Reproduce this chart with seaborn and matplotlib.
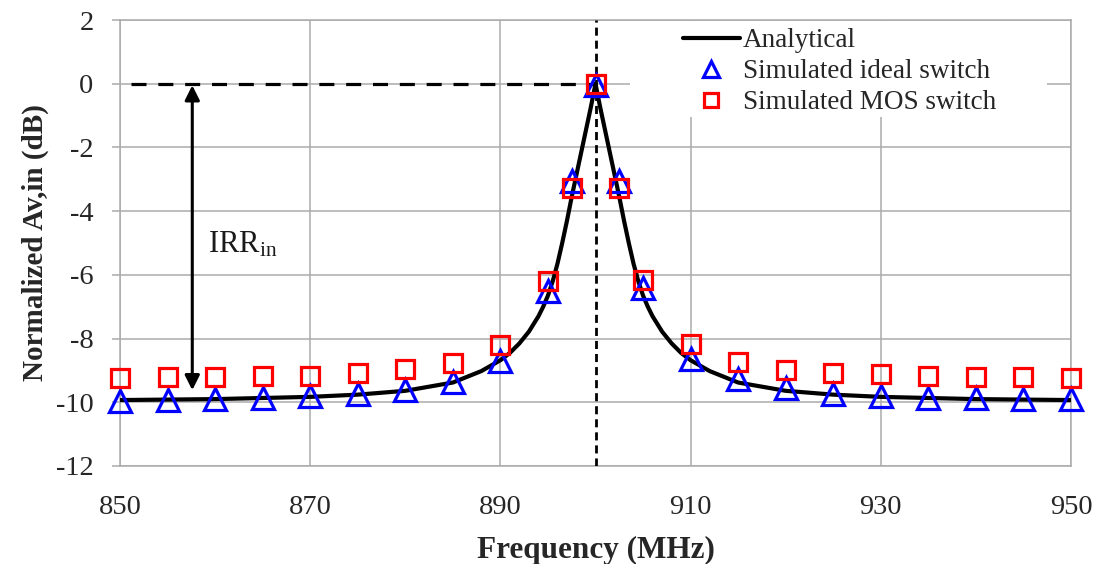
import matplotlib
matplotlib.use("Agg")
import matplotlib.pyplot as plt
import seaborn as sns
import pandas as pd
from matplotlib.patches import Rectangle
from matplotlib.lines import Line2D

# ---------------- data ----------------
freq = [850, 855, 860, 865, 870, 875, 880, 885, 890, 895, 897.5, 900,
        902.5, 905, 910, 915, 920, 925, 930, 935, 940, 945, 950]
ideal_db = [-9.95, -9.93, -9.90, -9.86, -9.81, -9.74, -9.62, -9.36, -8.70, -6.52, -3.05, -0.05,
            -3.05, -6.40, -8.64, -9.27, -9.54, -9.73, -9.80, -9.86, -9.88, -9.90, -9.91]
mos_db = [-9.25, -9.21, -9.22, -9.18, -9.17, -9.09, -8.97, -8.78, -8.20, -6.18, -3.27, 0.0,
          -3.27, -6.15, -8.16, -8.72, -8.98, -9.09, -9.12, -9.18, -9.22, -9.22, -9.25]

curve_freq = [850, 860, 870, 875, 880, 885, 888, 890, 891, 892, 893, 894, 894.5, 895, 895.5,
              896, 896.5, 897, 897.5, 898, 898.5, 899, 899.5, 900,
              900.5, 901, 901.5, 902, 902.5, 903, 903.5, 904, 904.5, 905, 905.5, 906, 907,
              908, 909, 910, 912, 915, 920, 925, 930, 940, 950]
curve_db = [-9.93, -9.90, -9.83, -9.76, -9.64, -9.38, -9.02, -8.68, -8.45, -8.15, -7.78,
            -7.30, -7.00, -6.65, -6.20, -5.65, -5.00, -4.30, -3.55, -2.85, -2.15, -1.45, -0.75,
            0.0,
            -0.75, -1.45, -2.15, -2.85, -3.55, -4.30, -5.00, -5.65, -6.20, -6.65, -7.00, -7.30,
            -7.78, -8.15, -8.45, -8.68, -9.02, -9.38, -9.64, -9.76, -9.83, -9.90, -9.93]

x_ticks = [850, 870, 890, 910, 930, 950]
y_ticks = [-12, -10, -8, -6, -4, -2, 0, 2]
center_freq = 900
ref_level = 0
arrow_freq = 857.6
arrow_bottom = -9.62
dash_start = 851.2
irr_pos = (859.3, -5.3)

labels = ["Analytical", "Simulated ideal switch", "Simulated MOS switch"]

# ---------------- style ----------------
sns.set_theme(style="white")
plt.rcParams["font.family"] = ["Liberation Serif", "DejaVu Serif"]
plt.rcParams["mathtext.fontset"] = "custom"
plt.rcParams["mathtext.rm"] = "Liberation Serif"
plt.rcParams["mathtext.it"] = "Liberation Serif:italic"

fig = plt.figure(figsize=(11.01, 5.64), dpi=100)
ax = fig.add_axes([120 / 1101, 1 - 466 / 564, 951 / 1101, 446 / 564])

grid_col = "#ababab"

df_curve = pd.DataFrame({"f": curve_freq, "db": curve_db})
df_pts = pd.DataFrame({"f": freq, "ideal": ideal_db, "mos": mos_db})

sns.lineplot(data=df_curve, x="f", y="db", ax=ax, color="black", lw=3.0,
             sort=False, estimator=None, zorder=3, legend=False)
sns.lineplot(data=df_pts, x="f", y="ideal", ax=ax, sort=False, estimator=None,
             linestyle="", marker="^", markersize=15.5, markerfacecolor="none",
             markeredgecolor="#0000ff", markeredgewidth=2.3, zorder=4, legend=False,
             clip_on=False)
sns.lineplot(data=df_pts, x="f", y="mos", ax=ax, sort=False, estimator=None,
             linestyle="", marker="s", markersize=13.5, markerfacecolor="none",
             markeredgecolor="#ff0000", markeredgewidth=2.3, zorder=5, legend=False,
             clip_on=False)

# reference dashed lines
ax.axvline(center_freq, color="black", lw=2.0, dashes=(2.9, 1.8), zorder=2.8)
ax.plot([dash_start, center_freq], [ref_level, ref_level], color="black", lw=2.3,
        dashes=(4.7, 3.7), zorder=2.8)

# double arrow IRR
ax.annotate("", xy=(arrow_freq, ref_level - 0.05), xytext=(arrow_freq, arrow_bottom),
            arrowprops=dict(arrowstyle="<|-|>", color="black", lw=2.2,
                            mutation_scale=22, shrinkA=0, shrinkB=0), zorder=3)
ax.text(irr_pos[0], irr_pos[1], r"IRR$_{\mathrm{in}}$", fontsize=22, va="baseline",
        ha="left", color="#1a1a1a")

# axes
ax.set_xlim(850, 950)
ax.set_ylim(-12, 2)
ax.set_xticks(x_ticks)
ax.set_yticks(y_ticks)
ax.set_xticklabels([str(v) for v in x_ticks])
ax.set_yticklabels([str(v) for v in y_ticks])
ax.grid(True, color=grid_col, lw=1.1)
ax.set_axisbelow(True)
for s in ax.spines.values():
    s.set_color(grid_col)
    s.set_linewidth(1.1)
    s.set_zorder(2.5)
ax.tick_params(axis="y", which="major", length=6, width=1.1, color=grid_col,
               labelsize=20.5, pad=13, direction="out", left=True)
ax.tick_params(axis="x", which="major", length=0, labelsize=20.5, pad=21)
ax.set_xlabel("Frequency (MHz)", fontsize=22.5, fontweight="bold", labelpad=11)
ax.set_ylabel("Normalized Av,in (dB)", fontsize=21, fontweight="bold", labelpad=5)

# white legend background (covers grid)
ax.add_patch(Rectangle((0.536, 0.7825), 0.439, 0.2155, transform=ax.transAxes,
                       facecolor="white", edgecolor="none", zorder=1.5))

handles = [
    Line2D([], [], color="black", lw=3.0),
    Line2D([], [], linestyle="", marker="^", markersize=11.5, markerfacecolor="none",
           markeredgecolor="#0000ff", markeredgewidth=2.3),
    Line2D([], [], linestyle="", marker="s", markersize=10.5, markerfacecolor="none",
           markeredgecolor="#ff0000", markeredgewidth=2.3),
]
ax.legend(handles, labels, loc="upper left", bbox_to_anchor=(0.592, 0.981),
          frameon=False, fontsize=19.5, handlelength=2.1, handletextpad=0.1,
          labelspacing=0.22, borderpad=0, borderaxespad=0)

fig.savefig("out.png", dpi=100)
